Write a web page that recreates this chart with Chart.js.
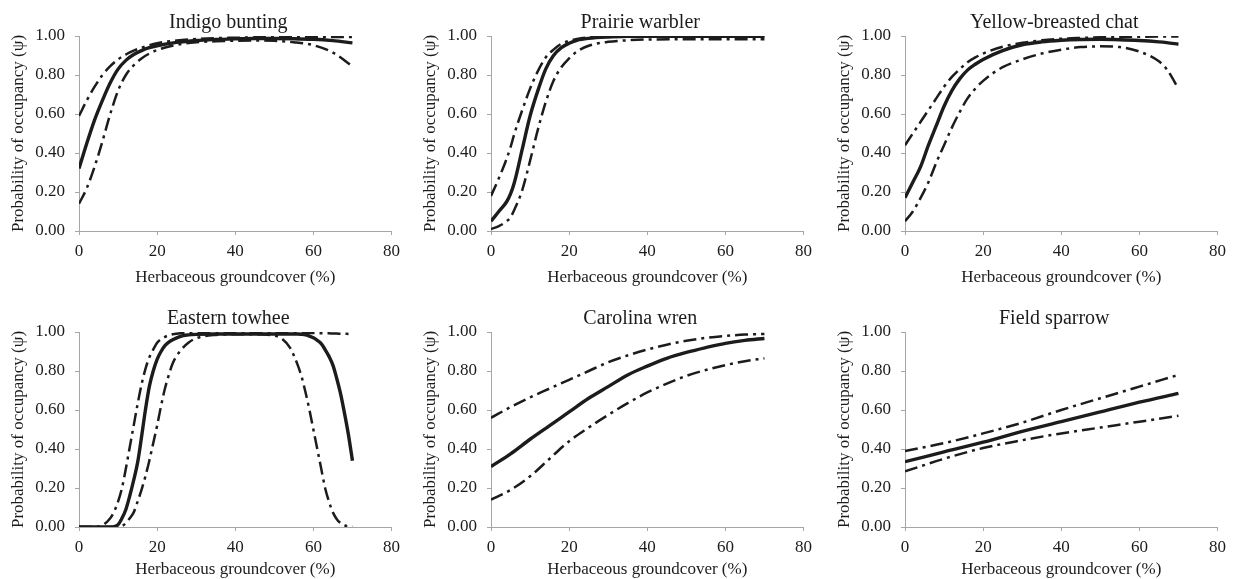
<!DOCTYPE html>
<html>
<head>
<meta charset="utf-8">
<script src="https://cdn.jsdelivr.net/npm/chart.js@4/dist/chart.umd.min.js"></script>
<style>
  html, body { margin: 0; padding: 0; background: #fff; width: 1235px; height: 579px; overflow: hidden; }
  #fig { position: relative; width: 1235px; height: 579px; }
  #fig canvas { position: absolute; }
</style>
</head>
<body>
<div id="fig"></div>
<script>
// ---- data -------------------------------------------------------------
const speciesNames = ['Indigo bunting', 'Prairie warbler', 'Yellow-breasted chat',
                      'Eastern towhee', 'Carolina wren', 'Field sparrow'];
const groundcoverTicks = [0, 20, 40, 60, 80];
const occupancyTicks = [0, 0.2, 0.4, 0.6, 0.8, 1.0];
const xAxisTitle = 'Herbaceous groundcover (%)';
const yAxisTitle = 'Probability of occupancy (\u03C8)';

// Indigo bunting
const indigoCover = [0, 2, 4, 6, 8, 10, 12, 14, 16, 18, 20, 25, 30, 35, 40, 45, 50, 55, 60, 65, 70];
const indigoMean  = [0.32, 0.45, 0.57, 0.67, 0.76, 0.83, 0.875, 0.905, 0.925, 0.94, 0.95, 0.967, 0.977, 0.982, 0.985, 0.987, 0.987, 0.986, 0.983, 0.976, 0.965];
const indigoUpper = [0.59, 0.67, 0.74, 0.80, 0.845, 0.88, 0.905, 0.925, 0.94, 0.953, 0.963, 0.977, 0.985, 0.989, 0.991, 0.993, 0.994, 0.995, 0.995, 0.995, 0.995];
const indigoLower = [0.14, 0.22, 0.33, 0.46, 0.60, 0.72, 0.80, 0.85, 0.885, 0.91, 0.928, 0.955, 0.968, 0.973, 0.976, 0.977, 0.975, 0.968, 0.953, 0.915, 0.845];

// Prairie warbler
const prairieCover = [0, 2, 4, 5, 6, 8, 10, 12, 14, 16, 18, 20, 22, 25, 30, 35, 40, 50, 60, 70];
const prairieMean  = [0.05, 0.10, 0.15, 0.19, 0.25, 0.42, 0.59, 0.72, 0.83, 0.90, 0.94, 0.963, 0.978, 0.988, 0.995, 0.998, 0.999, 0.999, 0.999, 0.999];
const prairieUpper = [0.18, 0.27, 0.37, 0.43, 0.50, 0.62, 0.73, 0.82, 0.89, 0.93, 0.96, 0.975, 0.985, 0.993, 0.997, 0.999, 0.999, 0.999, 0.999, 0.999];
const prairieLower = [0.01, 0.025, 0.05, 0.07, 0.11, 0.21, 0.36, 0.52, 0.66, 0.77, 0.84, 0.885, 0.92, 0.95, 0.97, 0.978, 0.982, 0.983, 0.983, 0.983];

// Yellow-breasted chat
const chatCover = [0, 2, 4, 6, 8, 10, 12, 14, 16, 18, 20, 25, 30, 35, 40, 45, 50, 55, 60, 65, 67, 70];
const chatMean  = [0.17, 0.25, 0.33, 0.44, 0.54, 0.64, 0.72, 0.78, 0.825, 0.855, 0.88, 0.925, 0.955, 0.97, 0.978, 0.982, 0.983, 0.981, 0.977, 0.97, 0.966, 0.958];
const chatUpper = [0.44, 0.50, 0.56, 0.62, 0.68, 0.74, 0.79, 0.83, 0.865, 0.89, 0.91, 0.945, 0.965, 0.978, 0.986, 0.99, 0.993, 0.995, 0.996, 0.997, 0.997, 0.997];
const chatLower = [0.05, 0.10, 0.17, 0.25, 0.35, 0.44, 0.53, 0.61, 0.68, 0.73, 0.77, 0.84, 0.88, 0.91, 0.93, 0.943, 0.947, 0.943, 0.92, 0.87, 0.83, 0.73];

// Eastern towhee
const towheeCover = [0, 5, 8, 9, 10, 11, 12, 13, 14, 15, 16, 17, 18, 19, 20, 21, 22, 23, 24, 26, 28, 30,
                     35, 40, 45, 50, 52, 54, 55, 56, 57, 58, 59, 60, 61, 62, 63, 64, 65, 66, 67, 68, 69, 70];
const towheeMean  = [0, 0, 0, 0.002, 0.012, 0.045, 0.09, 0.16, 0.24, 0.33, 0.46, 0.60, 0.72, 0.80, 0.86, 0.90, 0.93, 0.948, 0.96, 0.978, 0.985, 0.988,
                     0.99, 0.99, 0.99, 0.99, 0.99, 0.99, 0.99, 0.99, 0.988, 0.985, 0.979, 0.97, 0.957, 0.94, 0.91, 0.875, 0.83, 0.76, 0.68, 0.58, 0.47, 0.34];
const towheeUpper = [0, 0.002, 0.045, 0.08, 0.13, 0.20, 0.30, 0.41, 0.52, 0.63, 0.73, 0.81, 0.87, 0.91, 0.945, 0.963, 0.975, 0.983, 0.988, 0.993, 0.995, 0.996,
                     0.996, 0.996, 0.996, 0.996, 0.996, 0.996, 0.996, 0.996, 0.995, 0.995, 0.995, 0.995, 0.994, 0.994, 0.993, 0.993, 0.992, 0.992, 0.991, 0.991, 0.99, 0.99];
const towheeLower = [0, 0, 0, 0, 0, 0.005, 0.02, 0.045, 0.075, 0.13, 0.19, 0.26, 0.34, 0.43, 0.52, 0.62, 0.71, 0.78, 0.84, 0.905, 0.945, 0.968,
                     0.985, 0.988, 0.988, 0.982, 0.965, 0.92, 0.88, 0.83, 0.77, 0.69, 0.60, 0.50, 0.40, 0.30, 0.20, 0.13, 0.075, 0.04, 0.02, 0.008, 0.003, 0.001];

// Carolina wren
const wrenCover = [0, 5, 10, 15, 20, 25, 30, 35, 40, 45, 50, 55, 60, 65, 70];
const wrenMean  = [0.31, 0.375, 0.45, 0.52, 0.59, 0.66, 0.72, 0.78, 0.825, 0.865, 0.895, 0.92, 0.942, 0.957, 0.967];
const wrenUpper = [0.56, 0.615, 0.665, 0.71, 0.755, 0.80, 0.845, 0.88, 0.91, 0.935, 0.955, 0.97, 0.98, 0.987, 0.99];
const wrenLower = [0.14, 0.19, 0.26, 0.35, 0.44, 0.51, 0.575, 0.635, 0.69, 0.735, 0.775, 0.805, 0.83, 0.85, 0.865];

// Field sparrow
const sparrowCover = [0, 10, 20, 30, 40, 50, 60, 70];
const sparrowMean  = [0.335, 0.385, 0.435, 0.49, 0.54, 0.59, 0.64, 0.685];
const sparrowUpper = [0.39, 0.43, 0.48, 0.535, 0.60, 0.66, 0.72, 0.78];
const sparrowLower = [0.285, 0.35, 0.405, 0.445, 0.48, 0.51, 0.54, 0.57];

const speciesSeries = [
  [indigoCover, indigoMean, indigoLower, indigoUpper],
  [prairieCover, prairieMean, prairieLower, prairieUpper],
  [chatCover, chatMean, chatLower, chatUpper],
  [towheeCover, towheeMean, towheeLower, towheeUpper],
  [wrenCover, wrenMean, wrenLower, wrenUpper],
  [sparrowCover, sparrowMean, sparrowLower, sparrowUpper]
];

// ---- layout & style ---------------------------------------------------
const columnLeft = [79, 491, 905];   // plot-area left edge of each column
const rowTop = [36, 332];            // plot-area top edge of each row
const rowTitleGap = [1.5, 5];        // space under the x-axis title, per row
const plotW = 313, plotH = 195;
const axisBandW = 79, xBandH = 58, topBand = 36, rightBand = 14;

const serif = "'Liberation Serif', 'Times New Roman', Times, serif";
const ink = '#1c1c1c';
const axisGrey = '#a6a6a6';
Chart.defaults.font.family = serif;
Chart.defaults.color = ink;

const pts = (xs, ys) => xs.map((x, i) => ({ x: x, y: ys[i] }));

// Title above each plot area
const panelTitle = {
  id: 'panelTitle',
  afterDraw(chart, args, opts) {
    const { ctx, chartArea } = chart;
    ctx.save();
    ctx.font = opts.size + 'px ' + serif;
    ctx.fillStyle = ink;
    ctx.textAlign = 'center';
    ctx.textBaseline = 'alphabetic';
    ctx.fillText(opts.text, (chartArea.left + chartArea.right) / 2 + opts.shift, chartArea.top - opts.lift);
    ctx.restore();
  }
};

const fig = document.getElementById('fig');

speciesNames.forEach((name, k) => {
  const [cover, mean, lower, upper] = speciesSeries[k];
  const col = k % 3, row = Math.floor(k / 3);

  const canvas = document.createElement('canvas');
  const W = axisBandW + plotW + rightBand;
  const H = topBand + plotH + xBandH;
  canvas.width = W;
  canvas.height = H;
  canvas.style.left = (columnLeft[col] - axisBandW) + 'px';
  canvas.style.top = (rowTop[row] - topBand) + 'px';
  fig.appendChild(canvas);

  const ciStyle = {
    borderColor: ink, borderWidth: 2.5, borderDash: [13, 5, 3, 5], borderCapStyle: 'butt',
    pointRadius: 0, fill: false, cubicInterpolationMode: 'monotone'
  };

  new Chart(canvas, {
    type: 'line',
    data: {
      datasets: [
        Object.assign({ label: 'Lower 95% CI', data: pts(cover, lower) }, ciStyle),
        Object.assign({ label: 'Upper 95% CI', data: pts(cover, upper) }, ciStyle),
        { label: 'Mean', data: pts(cover, mean), borderColor: ink, borderWidth: 3.4,
          pointRadius: 0, fill: false, cubicInterpolationMode: 'monotone', borderCapStyle: 'butt' }
      ]
    },
    options: {
      responsive: false,
      devicePixelRatio: 1,
      animation: false,
      events: [],
      layout: { padding: { left: 0, right: rightBand, top: topBand, bottom: 0 } },
      plugins: {
        legend: { display: false },
        tooltip: { enabled: false },
        title: { display: false },
        panelTitle: { text: name, size: 20, shift: -7, lift: 7.7 }
      },
      scales: {
        x: {
          type: 'linear', min: 0, max: 80, offset: false,
          afterFit: s => { s.height = xBandH; },
          afterBuildTicks: s => { s.ticks = groundcoverTicks.map(v => ({ value: v })); },
          grid: { drawOnChartArea: false, drawTicks: true, tickLength: 4, color: axisGrey, lineWidth: 1 },
          border: { display: true, color: axisGrey, width: 1 },
          ticks: { font: { size: 17 }, color: ink, padding: 6, maxRotation: 0, callback: v => String(v) },
          title: { display: true, text: xAxisTitle, font: { size: 17 }, color: ink,
                   padding: { top: 4, bottom: rowTitleGap[row] } }
        },
        y: {
          type: 'linear', min: 0, max: 1,
          afterFit: s => { s.width = axisBandW; },
          afterBuildTicks: s => { s.ticks = occupancyTicks.map(v => ({ value: v })); },
          grid: { drawOnChartArea: false, drawTicks: true, tickLength: 4, color: axisGrey, lineWidth: 1 },
          border: { display: true, color: axisGrey, width: 1 },
          ticks: { font: { size: 17 }, color: ink, padding: 10, callback: v => Number(v).toFixed(2) },
          title: { display: true, text: yAxisTitle, font: { size: 17 }, color: ink, padding: { top: 8, bottom: 0 } }
        }
      }
    },
    plugins: [panelTitle]
  });
});
</script>
</body>
</html>
